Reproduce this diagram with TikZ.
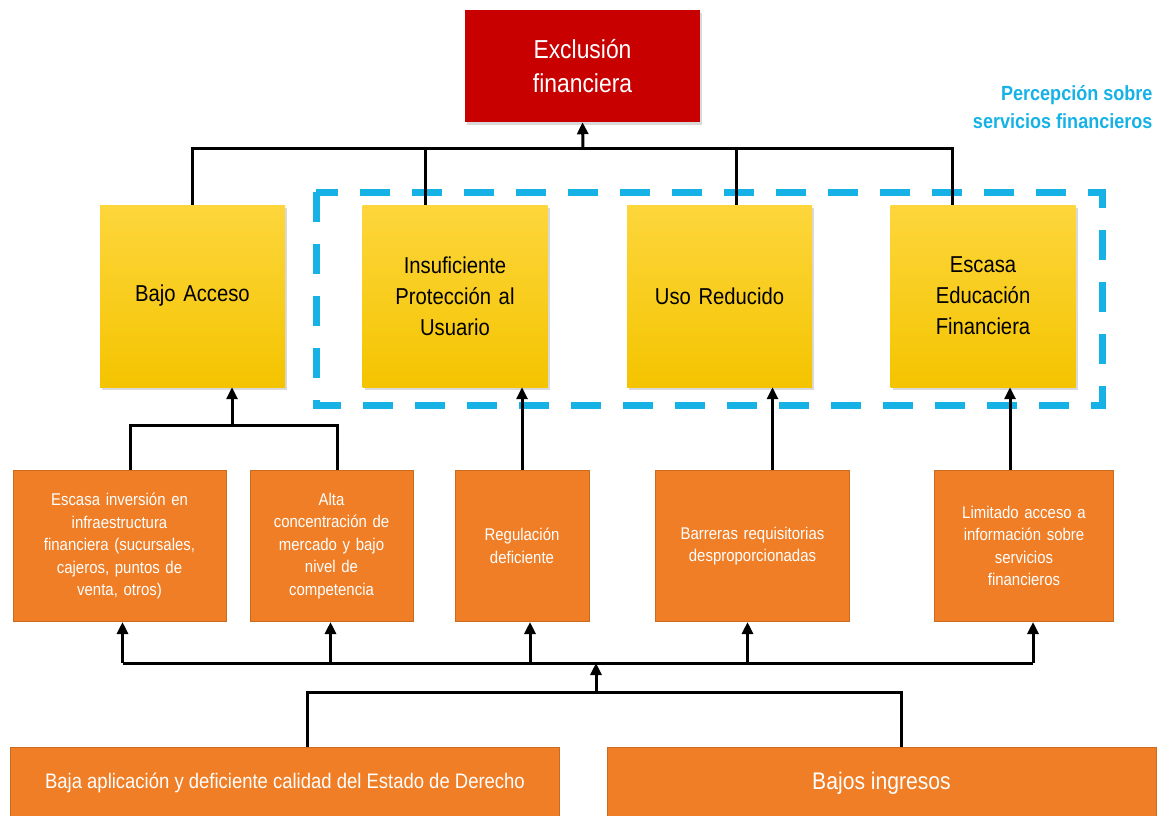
\documentclass[tikz,border=0pt]{standalone}
\usepackage{fontspec}
\setmainfont[FakeStretch=0.88]{Liberation Sans}
\usetikzlibrary{arrows.meta, positioning, shadows}
\definecolor{rojo}{RGB}{200,0,0}
\definecolor{amarilloA}{RGB}{253,214,60}
\definecolor{amarilloB}{RGB}{244,196,0}
\definecolor{naranja}{RGB}{239,126,38}
\definecolor{celeste}{RGB}{22,178,230}

\begin{document}
\begin{tikzpicture}[x=1pt, y=-1pt,
  efecto/.style={fill=rojo, text=white, minimum width=235pt, minimum height=112pt,
                 align=center, font=\fontsize{26}{34}\selectfont,
                 drop shadow={opacity=0.3, shadow xshift=2pt, shadow yshift=-3pt}},
  problema/.style={top color=amarilloA, bottom color=amarilloB, minimum width=185pt,
                 minimum height=182pt, text width=170pt, align=center,
                 font=\fontsize{23}{31}\selectfont,
                 drop shadow={opacity=0.3, shadow xshift=2pt, shadow yshift=-3pt}},
  causa/.style={fill=naranja, draw=naranja!85!black, line width=1pt, text=white,
                minimum height=151pt, align=center, inner xsep=3pt,
                font=\fontsize{17}{22.5}\selectfont},
  base/.style={fill=naranja, draw=naranja!85!black, line width=1pt, text=white,
               minimum height=72pt, minimum width=549pt, align=center},
  linea/.style={line width=3pt, black},
  arr/.style={linea, -{Triangle[length=12pt, width=11pt]}},
  grupo/.style={draw=celeste, line width=7pt, dash pattern=on 30pt off 22pt}
]
\useasboundingbox (0,0) rectangle (1161,815);

% efecto y problemas
\node[efecto] (excl) at (582.5,66) {Exclusión\\financiera};
\node[problema] (acceso)     at (192.5,296) {Bajo Acceso};
\node[problema] (proteccion) at (455,296)   {Insuficiente\\Protección al\\Usuario};
\node[problema] (uso)        at (719.5,296) {Uso Reducido};
\node[problema] (educacion)  at (983,296)   {Escasa\\Educación\\Financiera};

\draw[grupo] (316,192) rectangle (1102,405);
\node[anchor=east, align=right, text=celeste, font=\bfseries\fontsize{20.5}{28}\selectfont]
  (percep) at (1156,107) {Percepción sobre\\servicios financieros};

% causas
\node[causa, minimum width=213pt, text width=206pt] (inversion)     at (119.5,546)
  {Escasa inversión en\\infraestructura\\financiera (sucursales,\\cajeros, puntos de\\venta, otros)};
\node[causa, minimum width=163pt, text width=156pt] (concentracion) at (331.5,546)
  {Alta\\concentración de\\mercado y bajo\\nivel de\\competencia};
\node[causa, minimum width=134pt, text width=127pt] (regulacion)    at (522,546)
  {Regulación\\deficiente};
\node[causa, minimum width=194pt, text width=187pt] (barreras)      at (752.5,546)
  {Barreras requisitorias\\desproporcionadas};
\node[causa, minimum width=179pt, text width=172pt] (informacion)   at (1024,546)
  {Limitado acceso a\\información sobre\\servicios\\financieros};

% causas de fondo
\node[base, font=\fontsize{21}{25}\selectfont] (estado)   at (285,783)
  {Baja aplicación y deficiente calidad del Estado de Derecho};
\node[base, font=\fontsize{24}{28}\selectfont] (ingresos) at (881.5,783) {Bajos ingresos};

% conectores superiores
\coordinate (jSup) at (583,148);
\coordinate (pTop) at ([xshift=-30pt]proteccion.north);
\coordinate (uTop) at ([xshift=17pt]uso.north);
\coordinate (eTop) at ([xshift=-31pt]educacion.north);
\draw[linea] (acceso.north) |- (jSup) -| (eTop);
\draw[linea] (pTop) -- (pTop |- jSup);
\draw[linea] (uTop) -- (uTop |- jSup);
\draw[arr] (jSup) -- (excl.south);

% causas -> problemas
\coordinate (jAcc) at (232,425);
\coordinate (iTop) at ([xshift=11pt]inversion.north);
\coordinate (cTop) at ([xshift=6pt]concentracion.north);
\draw[linea] (iTop) |- (jAcc) -| (cTop);
\draw[arr] (jAcc) -- (jAcc |- acceso.south);
\draw[arr] (regulacion.north) -- (regulacion.north |- proteccion.south);
\coordinate (bTop) at ([xshift=20pt]barreras.north);
\draw[arr] (bTop) -- (bTop |- uso.south);
\coordinate (lTop) at ([xshift=-14pt]informacion.north);
\draw[arr] (lTop) -- (lTop |- educacion.south);

% causas de fondo -> causas
\coordinate (jMed) at (596,663);
\coordinate (jInf) at (596,692);
\foreach \n/\dx in {inversion/3, concentracion/-1, regulacion/8, barreras/-5, informacion/9}{
  \path (\n.south) ++(\dx,0) coordinate (t-\n);
  \draw[arr] (t-\n |- jMed) -- (t-\n);
}
\draw[linea] (t-inversion |- jMed) -- (t-informacion |- jMed);
\draw[arr] (jInf) -- (jMed);
\coordinate (sTop) at ([xshift=22pt]estado.north);
\coordinate (gTop) at ([xshift=20pt]ingresos.north);
\draw[linea] (sTop) |- (jInf) -| (gTop);
\end{tikzpicture}
\end{document}
